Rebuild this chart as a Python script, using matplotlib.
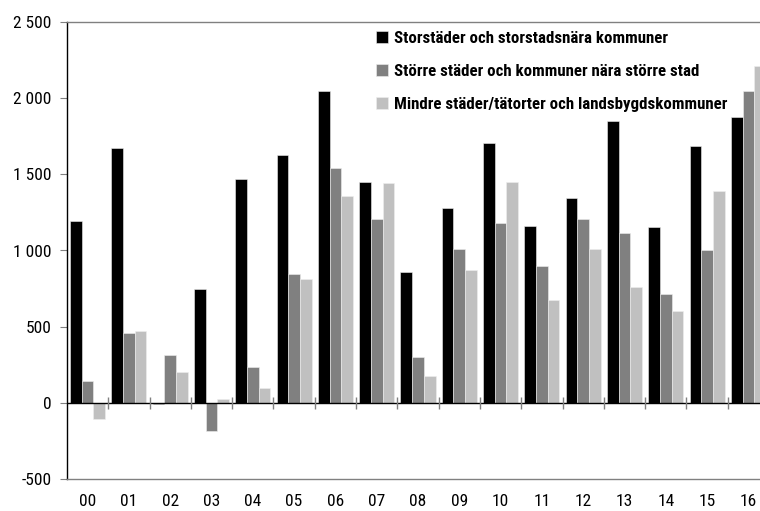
import matplotlib
matplotlib.use("Agg")
from matplotlib import pyplot as plt
from matplotlib.ticker import FuncFormatter
import numpy as np

years = ["00", "01", "02", "03", "04", "05", "06", "07", "08",
         "09", "10", "11", "12", "13", "14", "15", "16"]

storstad = [1195, 1675, -8, 748, 1470, 1625, 2045, 1448, 858,
            1282, 1708, 1164, 1347, 1850, 1155, 1689, 1874]
storre_stad = [144, 457, 315, -186, 234, 848, 1544, 1205, 302,
               1008, 1181, 897, 1207, 1118, 715, 1004, 2047]
mindre_stad = [-107, 472, 205, 24, 96, 812, 1360, 1446, 179,
               871, 1452, 676, 1010, 763, 606, 1391, 2213]

series = [
    ("Storstäder och storstadsnära kommuner", storstad, "#000000"),
    ("Större städer och kommuner nära större stad", storre_stad, "#808080"),
    ("Mindre städer/tätorter och landsbygdskommuner", mindre_stad, "#C0C0C0"),
]

plt.rcParams["font.family"] = ["Roboto Condensed", "DejaVu Sans"]

fig = plt.figure(figsize=(7.6, 5.11), dpi=100)
# axes runs a little past the right edge, as in the source
ax = fig.add_axes([67 / 760, 32 / 511, 702 / 760, 457 / 511])

x = np.arange(len(years))
w = 0.283
for k, (label, vals, col) in enumerate(series):
    ax.bar(x + (k - 1) * w, vals, width=w, color=col, edgecolor="#EEEEEE",
           linewidth=0.4, label=label, zorder=2)

ax.set_xlim(-0.5, len(years) - 0.5)
ax.set_ylim(-500, 2500)
ax.set_yticks(range(-500, 2501, 500))
ax.yaxis.set_major_formatter(FuncFormatter(lambda v, p: f"{int(v):,}".replace(",", " ")))

ax.set_xticks(x)
ax.set_xticklabels(years)

# zero line with separator ticks between groups
ax.axhline(0, color="black", linewidth=1.0, zorder=3)
ax.vlines(x[:-1] + 0.5, -38, 40, color="#808080", linewidth=1.0, zorder=3)

for s in ("top", "bottom"):
    ax.spines[s].set_color("#808080")
    ax.spines[s].set_linewidth(1.0)
ax.spines["left"].set_color("black")
ax.spines["left"].set_linewidth(1.0)
ax.spines["right"].set_visible(False)

ax.tick_params(axis="x", length=0, pad=11, labelsize=12.5)
ax.tick_params(axis="y", length=5, color="#808080", pad=6, labelsize=12.5)

fig.legend(loc="upper left", bbox_to_anchor=(369 / 760, 1 - 24 / 511),
           frameon=False, prop={"weight": "bold", "size": 12.2},
           handlelength=0.75, handleheight=0.75, handletextpad=0.3,
           labelspacing=1.05, borderaxespad=0)

fig.savefig("out.png", dpi=100)
